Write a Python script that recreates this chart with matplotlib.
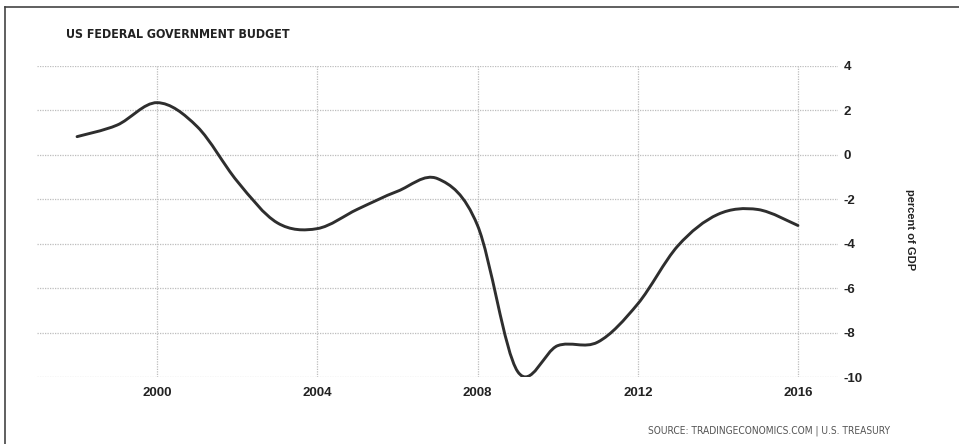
import matplotlib
matplotlib.use("Agg")
import matplotlib.pyplot as plt
from matplotlib.path import Path
from matplotlib.patches import PathPatch
from matplotlib.lines import Line2D
import numpy as np

years = [1998, 1999, 2000, 2001, 2002, 2003, 2004, 2005, 2006, 2007,
         2008, 2009, 2010, 2011, 2012, 2013, 2014, 2015, 2016]
budget = [0.82, 1.34, 2.35, 1.27, -1.19, -3.06, -3.32, -2.45, -1.64, -1.07,
          -3.18, -9.75, -8.59, -8.43, -6.71, -4.10, -2.68, -2.46, -3.18]
x_ticks = [2000, 2004, 2008, 2012, 2016]
y_ticks = [4, 2, 0, -2, -4, -6, -8, -10]

title = "US FEDERAL GOVERNMENT BUDGET"
ylabel = "percent of GDP"
source = "SOURCE: TRADINGECONOMICS.COM | U.S. TREASURY"

plt.rcParams['font.family'] = ['Liberation Sans', 'DejaVu Sans']

W, H = 959, 444
fig = plt.figure(figsize=(W / 100, H / 100), dpi=100)
fig.patch.set_facecolor('white')

ax = fig.add_axes([37 / W, 1 - 377 / H, (838 - 37) / W, (377 - 66) / H])
ax.set_xlim(1997, 2017)
ax.set_ylim(-10, 4)
for s in ax.spines.values():
    s.set_visible(False)

ax.set_xticks(x_ticks)
ax.set_yticks(y_ticks)
ax.set_xticklabels([str(t) for t in x_ticks], fontsize=9.5, fontweight='bold', color='#222222')
ax.set_yticklabels([str(t) for t in y_ticks], fontsize=9.5, fontweight='bold', color='#222222')
ax.yaxis.tick_right()
ax.tick_params(axis='both', length=0)
ax.tick_params(axis='x', pad=7)
ax.tick_params(axis='y', pad=4)
ax.grid(True, color='#bdbdbd', linestyle=(0, (1, 1)), linewidth=0.9)
ax.set_axisbelow(True)

# smooth (Catmull-Rom as cubic Bezier) line through the data points
xs = np.asarray(years, dtype=float)
ys = np.asarray(budget, dtype=float)
n = len(xs)
verts = [(xs[0], ys[0])]
codes = [Path.MOVETO]
for i in range(n - 1):
    i0 = max(i - 1, 0)
    i3 = min(i + 2, n - 1)
    c1 = (xs[i] + (xs[i + 1] - xs[i0]) / 6, ys[i] + (ys[i + 1] - ys[i0]) / 6)
    c2 = (xs[i + 1] - (xs[i3] - xs[i]) / 6, ys[i + 1] - (ys[i3] - ys[i]) / 6)
    verts += [c1, c2, (xs[i + 1], ys[i + 1])]
    codes += [Path.CURVE4] * 3
patch = PathPatch(Path(verts, codes), facecolor='none', edgecolor='#2e2e2e',
                  linewidth=2.1, capstyle='round', joinstyle='round')
ax.add_patch(patch)

fig.text(66 / W, 1 - 34.5 / H, title, fontsize=8.9, fontweight='bold',
         fontstretch='condensed', color='#222222', va='center', ha='left',
         family=['DejaVu Sans'])
fig.text(910 / W, 1 - 230 / H, ylabel, fontsize=8, fontweight='bold', rotation=-90,
         color='#222222', va='center', ha='center')
fig.text(890 / W, 1 - 431 / H, source, fontsize=7.3, color='#555555',
         fontstretch='condensed', va='center', ha='right',
         family=['DejaVu Sans'])

# outer frame (left and top edges visible)
fig.add_artist(Line2D([5 / W, 5 / W], [0, 1 - 7 / H], transform=fig.transFigure,
                      color='#444444', linewidth=1.2))
fig.add_artist(Line2D([5 / W, 1], [1 - 7 / H, 1 - 7 / H], transform=fig.transFigure,
                      color='#444444', linewidth=1.2))

fig.savefig("out.png", dpi=100)
